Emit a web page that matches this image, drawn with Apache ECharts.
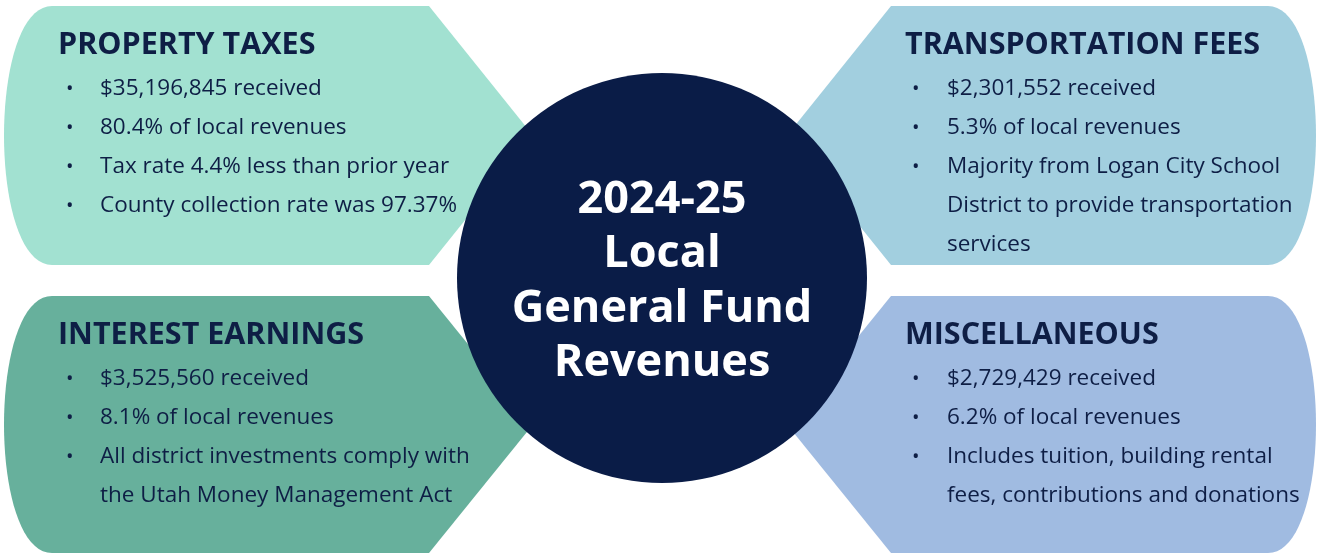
<!DOCTYPE html>
<html>
<head>
<meta charset="utf-8">
<title>2024-25 Local General Fund Revenues</title>
<script src="https://cdn.jsdelivr.net/npm/echarts@6/dist/echarts.min.js"></script>
<style>
  html, body { margin: 0; padding: 0; background: #fff; }
  #chart { width: 1319px; height: 557px; }
</style>
</head>
<body>
<div id="chart"></div>
<script>
// data
const centerTitle = ['2024-25', 'Local', 'General Fund', 'Revenues'];
const sourceNames = ['PROPERTY TAXES', 'TRANSPORTATION FEES', 'INTEREST EARNINGS', 'MISCELLANEOUS'];
const amounts = [35196845, 2301552, 3525560, 2729429];
const shares = [80.4, 5.3, 8.1, 6.2];
// extra bullets per source, wrapped lines as inner arrays
const extraNotes = [
  [['Tax rate 4.4% less than prior year'], ['County collection rate was 97.37%']],
  [['Majority from Logan City School', 'District to provide transportation', 'services']],
  [['All district investments comply with', 'the Utah Money Management Act']],
  [['Includes tuition, building rental', 'fees, contributions and donations']]
];
const boxColors = ['#a2e1d1', '#a2cfdf', '#67b09c', '#a0bbe1'];

const navy = '#0a1c47';
const ink = '#0e1e45';
const font = '"Open Sans", "Noto Sans", sans-serif';

let myChart = echarts.init(document.getElementById('chart'));

// tab shape: curved outer side, pointed inner side
const AXIS = 660;
function tabPoints(y0, y1, right) {
  let corner = 52, straight = 429, tip = 533, outer = 4;
  let ym = (y0 + y1) / 2;
  let c = (outer - 0.25 * corner) / 0.75;
  let pts = [[corner, y0], [straight, y0], [tip, ym], [straight, y1], [corner, y1]];
  for (let i = 1; i < 40; i++) {
    let t = i / 40, u = 1 - t;
    let x = corner * u * u * u + 3 * c * u * u * t + 3 * c * u * t * t + corner * t * t * t;
    let y = y1 * u * u * u + 3 * y1 * u * u * t + 3 * y0 * u * t * t + y0 * t * t * t;
    pts.push([x, y]);
  }
  if (right) pts = pts.map(p => [2 * AXIS - p[0], p[1]]);
  return pts;
}

const boxes = [
  { y0: 6, y1: 265, right: false },
  { y0: 6, y1: 265, right: true },
  { y0: 296, y1: 553, right: false },
  { y0: 296, y1: 553, right: true }
];

let elements = [];
boxes.forEach(function (b, i) {
  elements.push({
    type: 'polygon',
    shape: { points: tabPoints(b.y0, b.y1, b.right) },
    style: { fill: boxColors[i] }
  });
});

elements.push({
  type: 'circle',
  shape: { cx: 662, cy: 278, r: 205 },
  style: { fill: navy }
});

function txt(text, x, y, size, weight, color, align) {
  return {
    type: 'text',
    x: x, y: y,
    style: {
      text: text,
      fill: color,
      font: weight + ' ' + size + 'px ' + font,
      textAlign: align || 'left',
      textVerticalAlign: 'middle',
      align: align || 'left',
      verticalAlign: 'middle'
    }
  };
}

boxes.forEach(function (b, i) {
  let titleX = b.right ? 905 : 58;
  let dotX = b.right ? 912 : 66;
  let textX = b.right ? 947 : 100;
  let titleY = b.y0 + 39;
  let lineY = b.y0 + 83;
  elements.push(txt(sourceNames[i], titleX, titleY, 30.5, 'bold', ink));
  let bullets = [
    ['$' + amounts[i].toLocaleString('en-US') + ' received'],
    [shares[i].toFixed(1) + '% of local revenues']
  ].concat(extraNotes[i]);
  bullets.forEach(function (lines) {
    elements.push(txt('•', dotX, lineY, 20, 'normal', ink));
    lines.forEach(function (line) {
      elements.push(txt(line, textX, lineY, 22.5, 'normal', ink));
      lineY += 39;
    });
  });
});

let cy = 200;
centerTitle.forEach(function (line, k) {
  elements.push(txt(line, 662, cy + k * 54.5, 45, 'bold', '#ffffff', 'center'));
});

let option = {
  backgroundColor: '#ffffff',
  animation: false,
  graphic: { elements: elements }
};
myChart.setOption(option);
</script>
</body>
</html>
